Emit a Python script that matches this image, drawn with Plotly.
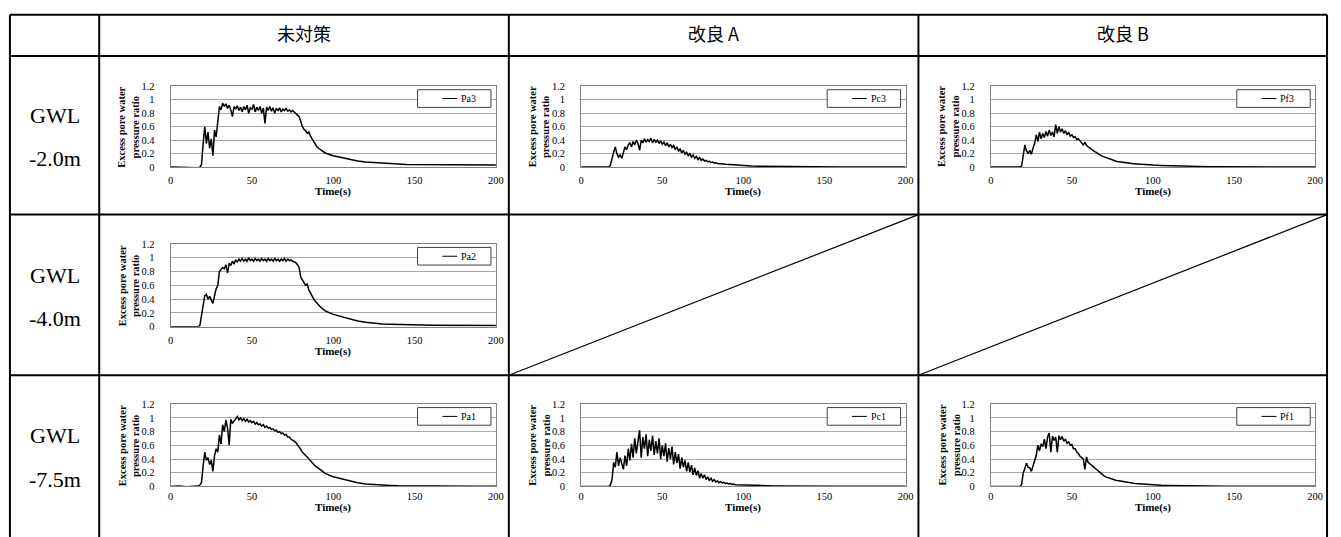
import plotly.graph_objects as go

W, H = 1341, 537

# ---------------- data ----------------
time_s = [0, 5, 10, 15,
          16, 17, 18, 19, 20, 21, 22, 23, 24, 25,
          26, 27, 28, 29, 30, 31, 32, 33, 34, 35,
          36, 37, 38, 39, 40, 41, 42, 43, 44, 45,
          46, 47, 48, 49, 50, 51, 52, 53, 54, 55,
          56, 57, 58, 59, 60, 61, 62, 63, 64, 65,
          66, 67, 68, 69, 70, 71, 72, 73, 74, 75,
          76, 77, 78, 79, 80, 81, 82, 83, 84, 85,
          86, 87, 88, 89, 90, 91, 92, 93, 94, 95,
          100, 105, 110, 115, 120, 125, 130, 135, 140, 145, 150,
          155, 160, 165, 170, 175, 180, 185, 190, 195, 200]

Pa3 = [0.0, -0.005, -0.01, -0.01,
       -0.01, -0.01, 0.0, 0.04, 0.35, 0.6, 0.35, 0.52, 0.28, 0.42,
       0.17, 0.55, 0.45, 0.7, 0.9, 0.85, 0.95, 0.9, 0.94, 0.87,
       0.92, 0.85, 0.75, 0.9, 0.86, 0.91, 0.84, 0.89, 0.82, 0.9,
       0.85, 0.92, 0.8, 0.88, 0.86, 0.93, 0.82, 0.89, 0.84, 0.9,
       0.8, 0.88, 0.65, 0.89, 0.84, 0.9, 0.83, 0.88, 0.8, 0.87,
       0.84, 0.88, 0.82, 0.86, 0.84, 0.87, 0.83, 0.85, 0.82, 0.84,
       0.82, 0.8, 0.78, 0.75, 0.68, 0.6, 0.56, 0.54, 0.5, 0.52,
       0.46, 0.42, 0.37, 0.34, 0.3, 0.28, 0.26, 0.24, 0.23, 0.21,
       0.17, 0.14, 0.11, 0.09, 0.075, 0.065, 0.055, 0.05, 0.045, 0.04, 0.04,
       0.035, 0.035, 0.035, 0.03, 0.03, 0.03, 0.03, 0.03, 0.03, 0.03]

Pc3 = [0.0, 0.0, 0.0, 0.0,
       0.0, 0.0, 0.03, 0.15, 0.22, 0.3, 0.2, 0.15, 0.18, 0.13,
       0.2, 0.3, 0.26, 0.33, 0.36, 0.3, 0.38, 0.33, 0.4, 0.35,
       0.25, 0.4, 0.36, 0.42, 0.37, 0.41, 0.38, 0.43, 0.36, 0.41,
       0.37, 0.4, 0.35, 0.39, 0.34, 0.37, 0.32, 0.36, 0.3, 0.34,
       0.29, 0.32, 0.26, 0.3, 0.24, 0.27, 0.21, 0.25, 0.19, 0.22,
       0.17, 0.2, 0.15, 0.18, 0.13, 0.16, 0.11, 0.14, 0.1, 0.12,
       0.09, 0.1, 0.08, 0.085, 0.07, 0.075, 0.06, 0.065, 0.055, 0.055,
       0.05, 0.048, 0.045, 0.042, 0.04, 0.037, 0.034, 0.032, 0.03, 0.028,
       0.02, 0.015, 0.012, 0.01, 0.008, 0.006, 0.005, 0.004, 0.003, 0.002, 0.002,
       0.002, 0.002, 0.001, 0.001, 0.001, 0.001, 0.001, 0.001, 0.001, 0.001]

Pf3 = [0.0, 0.0, 0.005, 0.0,
       0.0, 0.0, 0.0, 0.02, 0.22, 0.33, 0.24, 0.2, 0.25, 0.19,
       0.28, 0.35, 0.48, 0.38, 0.52, 0.42, 0.5, 0.44, 0.53, 0.46,
       0.55, 0.47, 0.52, 0.45, 0.63, 0.5, 0.6, 0.52, 0.57, 0.5,
       0.54, 0.48, 0.52, 0.46, 0.48, 0.44, 0.45, 0.41, 0.42, 0.38,
       0.36, 0.33, 0.37, 0.32, 0.3, 0.28, 0.27, 0.25, 0.23, 0.22,
       0.2, 0.19, 0.17, 0.16, 0.15, 0.14, 0.13, 0.12, 0.11, 0.1,
       0.1, 0.09, 0.085, 0.08, 0.075, 0.07, 0.068, 0.065, 0.06, 0.058,
       0.055, 0.052, 0.05, 0.048, 0.045, 0.043, 0.04, 0.038, 0.036, 0.034,
       0.03, 0.025, 0.02, 0.015, 0.012, 0.01, 0.008, 0.006, 0.005, 0.004, 0.003,
       0.003, 0.002, 0.002, 0.002, 0.002, 0.001, 0.001, 0.001, 0.001, 0.001]

Pa2 = [0.0, 0.0, 0.0, 0.0,
       0.0, 0.0, 0.02, 0.15, 0.28, 0.45, 0.47, 0.4, 0.44, 0.38,
       0.34, 0.45, 0.55, 0.6, 0.8, 0.83, 0.86, 0.84, 0.9, 0.78,
       0.92, 0.89, 0.95, 0.91, 0.97, 0.94, 0.98, 0.95, 0.99, 0.95,
       0.98, 0.95, 1.0, 0.96, 0.98, 0.95, 0.99, 0.96, 0.98, 0.95,
       0.99, 0.96, 0.98, 0.95, 0.99, 0.96, 0.98, 0.95, 0.99, 0.96,
       0.98, 0.95, 0.98, 0.96, 0.99, 0.95, 0.98, 0.96, 0.97, 0.95,
       0.94, 0.93, 0.9, 0.86, 0.72, 0.68, 0.64, 0.6, 0.62, 0.53,
       0.49, 0.44, 0.4, 0.37, 0.34, 0.31, 0.29, 0.27, 0.25, 0.23,
       0.18, 0.15, 0.11, 0.085, 0.065, 0.05, 0.04, 0.035, 0.03, 0.028, 0.025,
       0.024, 0.022, 0.022, 0.02, 0.02, 0.02, 0.02, 0.02, 0.02, 0.02]

Pa1 = [0.0, 0.005, -0.005, 0.0,
       0.0, 0.005, 0.02, 0.06, 0.3, 0.5, 0.38, 0.42, 0.32, 0.38,
       0.22, 0.45, 0.55, 0.5, 0.75, 0.62, 0.9, 0.8, 0.97, 0.85,
       0.6, 0.98, 0.92, 0.96, 0.99, 1.02, 0.97, 1.0, 0.96, 0.99,
       0.95, 0.98, 0.94, 0.96, 0.93, 0.95, 0.91, 0.93, 0.9, 0.91,
       0.88, 0.9, 0.86, 0.88, 0.85, 0.86, 0.83, 0.84, 0.81, 0.82,
       0.79, 0.8, 0.77, 0.78, 0.75, 0.76, 0.72, 0.72, 0.69, 0.68,
       0.66, 0.64, 0.61, 0.58, 0.54, 0.5, 0.47, 0.45, 0.43, 0.4,
       0.37, 0.35, 0.32, 0.3, 0.28, 0.26, 0.24, 0.22, 0.2, 0.19,
       0.14, 0.11, 0.08, 0.055, 0.035, 0.025, 0.02, 0.015, 0.01, 0.008, 0.006,
       0.005, 0.004, 0.004, 0.003, 0.003, 0.003, 0.002, 0.002, 0.002, 0.002]

Pc1 = [0.0, 0.0, 0.0, 0.0,
       0.0, 0.0, 0.02, 0.1, 0.35, 0.28, 0.5, 0.3, 0.42, 0.32,
       0.25, 0.45, 0.3, 0.55, 0.38, 0.62, 0.42, 0.7, 0.48, 0.66,
       0.82, 0.42, 0.72, 0.55, 0.76, 0.44, 0.68, 0.52, 0.74, 0.46,
       0.66, 0.48, 0.7, 0.4, 0.6, 0.44, 0.63, 0.36, 0.56, 0.4,
       0.58, 0.32, 0.5, 0.34, 0.47, 0.26, 0.42, 0.28, 0.38, 0.22,
       0.35, 0.21, 0.31, 0.17, 0.27, 0.16, 0.23, 0.12, 0.19, 0.12,
       0.17, 0.1, 0.14, 0.085, 0.12, 0.075, 0.1, 0.065, 0.08, 0.055,
       0.07, 0.05, 0.06, 0.042, 0.05, 0.036, 0.042, 0.03, 0.035, 0.026,
       0.02, 0.015, 0.012, 0.01, 0.008, 0.006, 0.005, 0.005, 0.004, 0.004, 0.003,
       0.003, 0.003, 0.003, 0.002, 0.002, 0.002, 0.002, 0.002, 0.002, 0.002]

Pf1 = [0.0, 0.0, 0.0, 0.0,
       0.0, 0.0, 0.0, 0.03, 0.2, 0.26, 0.34, 0.28, 0.27, 0.22,
       0.3, 0.36, 0.45, 0.6, 0.52, 0.62, 0.58, 0.69, 0.55, 0.72,
       0.78, 0.5, 0.73, 0.67, 0.72, 0.5, 0.74, 0.68, 0.73, 0.66,
       0.69, 0.63, 0.65, 0.6, 0.61, 0.55, 0.55, 0.5, 0.48, 0.44,
       0.42, 0.4, 0.25, 0.43, 0.35, 0.33, 0.3, 0.29, 0.26, 0.25,
       0.22, 0.2, 0.18, 0.17, 0.15, 0.14, 0.13, 0.12, 0.11, 0.1,
       0.1, 0.09, 0.085, 0.08, 0.075, 0.07, 0.068, 0.065, 0.062, 0.06,
       0.055, 0.05, 0.045, 0.042, 0.04, 0.037, 0.035, 0.032, 0.03, 0.028,
       0.02, 0.018, 0.015, 0.012, 0.01, 0.008, 0.006, 0.005, 0.004, 0.004, 0.003,
       0.003, 0.003, 0.002, 0.002, 0.002, 0.002, 0.002, 0.002, 0.002, 0.002]

column_labels = ["未対策", "改良 A", "改良 B"]
row_labels = [("GWL", "-2.0m"), ("GWL", "-4.0m"), ("GWL", "-7.5m")]

# series name, values, row, column
panels = [("Pa3", Pa3, 0, 0), ("Pc3", Pc3, 0, 1), ("Pf3", Pf3, 0, 2),
          ("Pa2", Pa2, 1, 0),
          ("Pa1", Pa1, 2, 0), ("Pc1", Pc1, 2, 1), ("Pf1", Pf1, 2, 2)]

x_ticks = [0, 50, 100, 150, 200]
y_ticks = [0, 0.2, 0.4, 0.6, 0.8, 1, 1.2]

for _, s, _, _ in panels:
    assert len(s) == len(time_s), len(s)

# ---------------- layout geometry (pixels) ----------------
col_px = [(169, 497), (583, 910), (996, 1323)]
row_px = [(83, 165.5), (244, 328.5), (407.5, 491.5)]
xtick_standoff = [3, 4, 0]
xtitle_off = [24.5, 25.5, 21.5]
table_v = [7, 97, 510, 923, 1335]
table_h = [10, 52, 214, 378]
table_bottom = 545

SERIF = "Liberation Serif"


def px(x):
    return x / W


def py(y):
    return 1 - y / H


fig = go.Figure()
annotations = []
shapes = []
layout = {}

for i, (name, vals, r, c) in enumerate(panels):
    k = "" if i == 0 else str(i + 1)
    x0, x1 = col_px[c]
    y0, y1 = row_px[r]
    fig.add_trace(go.Scatter(
        x=time_s, y=vals, mode="lines", name=name,
        line=dict(color="black", width=1.5),
        xaxis="x" + k, yaxis="y" + k, showlegend=False,
    ))
    layout["xaxis" + k] = dict(
        domain=[px(x0), px(x1)], anchor="y" + k, range=[0, 200],
        tickvals=x_ticks, showgrid=False, zeroline=False,
        showline=True, linecolor="#808080", linewidth=1, mirror=True,
        ticks="", ticklabelstandoff=xtick_standoff[r],
        tickfont=dict(family=SERIF, size=10.5, color="black"),
    )
    layout["yaxis" + k] = dict(
        domain=[py(y1), py(y0)], anchor="x" + k, range=[0, 1.2],
        tickvals=y_ticks, showgrid=True, gridcolor="#a8a8a8", gridwidth=1,
        zeroline=False, showline=True, linecolor="#808080", linewidth=1,
        mirror=True, ticks="", ticklabelstandoff=13,
        tickfont=dict(family=SERIF, size=10.5, color="black"),
    )
    # legend box (series key) drawn in the panel's top-right corner
    lx0, lx1 = x1 - 79, x1 - 5
    ly0, ly1 = y0 + 3.5, y0 + 21.5
    lyc = (ly0 + ly1) / 2
    shapes.append(dict(type="rect", xref="paper", yref="paper",
                       x0=px(lx0), x1=px(lx1), y0=py(ly1), y1=py(ly0),
                       fillcolor="white", line=dict(color="#404040", width=1), layer="above"))
    shapes.append(dict(type="line", xref="paper", yref="paper",
                       x0=px(x1 - 54), x1=px(x1 - 39), y0=py(lyc), y1=py(lyc),
                       line=dict(color="black", width=1), layer="above"))
    annotations.append(dict(
        x=px(x1 - 37), y=py(lyc), xref="paper", yref="paper", text=name,
        showarrow=False, xanchor="left", yanchor="middle",
        font=dict(family=SERIF, size=10, color="black"),
    ))
    annotations.append(dict(
        x=px((x0 + x1) / 2), y=py(y1 + xtitle_off[r]), xref="paper", yref="paper",
        text="<b>Time(s)</b>", showarrow=False, xanchor="center", yanchor="middle",
        font=dict(family=SERIF, size=11, color="black"),
    ))
    annotations.append(dict(
        x=px(x0 - 42), y=py((y0 + y1) / 2), xref="paper", yref="paper",
        text="<b>Excess pore water<br>pressure ratio</b>", showarrow=False,
        textangle=-90, xanchor="center", yanchor="middle",
        font=dict(family=SERIF, size=10.5, color="black"),
    ))

# table header and row labels
for j, lab in enumerate(column_labels):
    annotations.append(dict(
        x=px((table_v[j + 1] + table_v[j + 2]) / 2), y=py(29), xref="paper", yref="paper",
        text=lab, showarrow=False, xanchor="center", yanchor="middle",
        font=dict(family="Noto Sans CJK JP", size=18, color="black"),
    ))
row_label_y = [(113, 157), (276, 320), (440, 484)]
for j, (l1, l2) in enumerate(row_labels):
    for txt, yy in zip((l1, l2), row_label_y[j]):
        annotations.append(dict(
            x=px(52), y=py(yy), xref="paper", yref="paper", text=txt,
            showarrow=False, xanchor="center", yanchor="middle",
            font=dict(family=SERIF, size=22, color="black"),
        ))

# table grid lines
for yy in table_h:
    shapes.append(dict(type="line", xref="paper", yref="paper",
                       x0=px(table_v[0]), x1=px(table_v[-1]), y0=py(yy), y1=py(yy),
                       line=dict(color="black", width=2)))
for xx in table_v:
    shapes.append(dict(type="line", xref="paper", yref="paper",
                       x0=px(xx), x1=px(xx), y0=py(table_h[0]), y1=py(table_bottom),
                       line=dict(color="black", width=2)))
# diagonal strokes in the empty cells
for c in (1, 2):
    shapes.append(dict(type="line", xref="paper", yref="paper",
                       x0=px(table_v[c + 1]), y0=py(table_h[3]),
                       x1=px(table_v[c + 2]), y1=py(table_h[2]),
                       line=dict(color="black", width=1.2)))

fig.update_layout(
    width=W, height=H, autosize=False,
    margin=dict(l=0, r=0, t=0, b=0),
    paper_bgcolor="white", plot_bgcolor="white",
    showlegend=False,
    annotations=annotations, shapes=shapes,
    **layout,
)

fig.write_html(
    "out.html",
    config={"displayModeBar": False},
    post_script="document.body.style.margin='0';document.body.style.padding='0';"
                "document.body.style.overflow='hidden';",
)
